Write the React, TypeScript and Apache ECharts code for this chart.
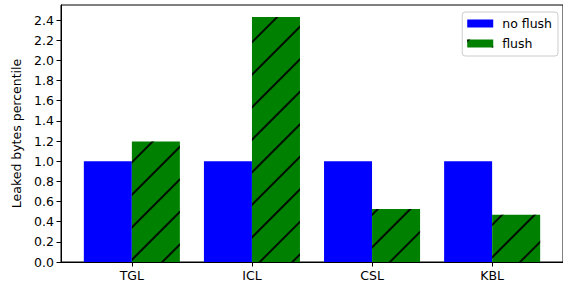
import React, { useEffect, useRef } from "react";
import * as echarts from "echarts";

const categories = ["TGL", "ICL", "CSL", "KBL"];
const seriesNames = ["no flush", "flush"];
const noFlush = [1.0, 1.0, 1.0, 1.0];
const flush = [1.195, 2.43, 0.525, 0.47];
const yTickValues = [0, 0.2, 0.4, 0.6, 0.8, 1.0, 1.2, 1.4, 1.6, 1.8, 2.0, 2.2, 2.4];
const xTickValues = [0, 1, 2, 3];

const FONT = "DejaVu Sans";
const HALF_GROUP = 0.2;

export default function App() {
  const ref = useRef<HTMLDivElement>(null);
  useEffect(() => {
    if (!ref.current) return;
    const chart = echarts.init(ref.current, undefined, { renderer: "svg" });
    const option: any = {
      animation: false,
      backgroundColor: "#ffffff",
      textStyle: { fontFamily: FONT },
      grid: {
        left: 61,
        right: -1,
        top: 5,
        bottom: 23,
        show: true,
        borderColor: "#000",
        borderWidth: 1,
        backgroundColor: "transparent",
      },
      legend: {
        orient: "vertical",
        right: 5,
        top: 12,
        icon: "rect",
        itemWidth: 26,
        itemHeight: 8,
        itemGap: 5,
        padding: [4, 6, 5, 5],
        borderColor: "#cccccc",
        borderWidth: 1,
        borderRadius: 3,
        backgroundColor: "rgba(255,255,255,0.8)",
        textStyle: { fontFamily: FONT, fontSize: 12.5, color: "#000", lineHeight: 15, padding: [0, 0, 0, 4] },
        data: seriesNames,
      },
      xAxis: {
        type: "value",
        min: -0.59,
        max: 3.59,
        axisLine: { show: true, onZero: false, lineStyle: { color: "#000", width: 1 } },
        axisTick: { show: true, customValues: xTickValues, length: 4.5, lineStyle: { color: "#000" } },
        axisLabel: {
          customValues: xTickValues,
          formatter: (v: number) => categories[Math.round(v)] ?? "",
          fontFamily: FONT,
          fontSize: 12.5,
          color: "#000",
          margin: 7,
        },
        splitLine: { show: false },
      },
      yAxis: {
        type: "value",
        min: 0,
        max: 2.55,
        name: "Leaked bytes percentile",
        nameLocation: "middle",
        nameGap: 38,
        nameTextStyle: { fontFamily: FONT, fontSize: 12.5, color: "#000" },
        axisLine: { show: true, onZero: false, lineStyle: { color: "#000", width: 1 } },
        axisTick: { show: true, customValues: yTickValues, length: 4.5, lineStyle: { color: "#000" } },
        axisLabel: {
          customValues: yTickValues,
          formatter: (v: number) => v.toFixed(1),
          fontFamily: FONT,
          fontSize: 12.5,
          color: "#000",
          margin: 7,
        },
        splitLine: { show: false },
      },
      series: [
        {
          name: seriesNames[0],
          type: "bar",
          barWidth: 48,
          barGap: "-100%",
          itemStyle: { color: "#0000ff" },
          data: categories.map((_, i) => [i - HALF_GROUP, noFlush[i]]),
        },
        {
          name: seriesNames[1],
          type: "bar",
          barWidth: 48,
          barGap: "-100%",
          itemStyle: {
            color: "#008000",
            decal: {
              symbol: "rect",
              symbolSize: 1,
              color: "rgba(0,0,0,0.9)",
              dashArrayX: [1, 0],
              dashArrayY: [2, 21],
              rotation: -Math.PI / 4,
            },
          },
          data: categories.map((_, i) => [i + HALF_GROUP, flush[i]]),
        },
      ],
    };
    chart.setOption(option);
    return () => chart.dispose();
  }, []);
  return (
    <div
      ref={ref}
      style={{ position: "fixed", left: 0, top: 0, width: 563, height: 285 }}
    />
  );
}
